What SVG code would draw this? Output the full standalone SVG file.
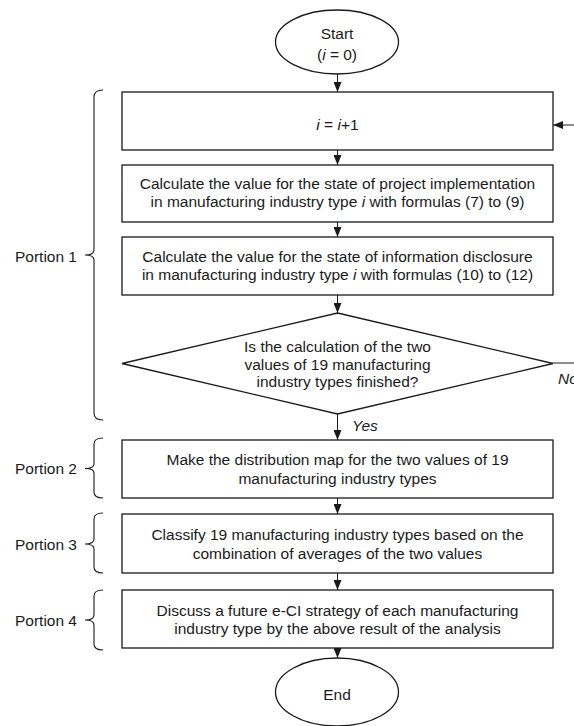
<svg xmlns="http://www.w3.org/2000/svg" width="574" height="726" viewBox="0 0 574 726">
  <style>
    .shape { fill: #fff; stroke: #1a1a1a; stroke-width: 1.3; }
    .conn { fill: none; stroke: #1a1a1a; stroke-width: 1; }
    .brace { fill: none; stroke: #1a1a1a; stroke-width: 1.1; }
    text { font-family: "Liberation Sans", Arial, sans-serif; font-size: 15.5px; fill: #1a1a1a; }
    .c { text-anchor: middle; }
    .r { text-anchor: end; }
    .it { font-style: italic; }
  </style>
  <defs>
    <marker id="arrow" markerUnits="userSpaceOnUse" markerWidth="10" markerHeight="8" refX="10" refY="4" orient="auto">
      <path d="M0,0 L10,4 L0,8 z" fill="#1a1a1a"/>
    </marker>
  </defs>

  <rect width="574" height="726" fill="#fff"/>

  <!-- connectors -->
  <g id="connectors">
    <line class="conn" x1="337.5" y1="74" x2="337.5" y2="92" marker-end="url(#arrow)"/>
    <line class="conn" x1="337.5" y1="150" x2="337.5" y2="165" marker-end="url(#arrow)"/>
    <line class="conn" x1="337.5" y1="222" x2="337.5" y2="237" marker-end="url(#arrow)"/>
    <line class="conn" x1="337.5" y1="295" x2="337.5" y2="313" marker-end="url(#arrow)"/>
    <line class="conn" x1="337.5" y1="414" x2="337.5" y2="440" marker-end="url(#arrow)"/>
    <line class="conn" x1="337.5" y1="498" x2="337.5" y2="514" marker-end="url(#arrow)"/>
    <line class="conn" x1="337.5" y1="573" x2="337.5" y2="590" marker-end="url(#arrow)"/>
    <line class="conn" x1="337.5" y1="648" x2="337.5" y2="658" marker-end="url(#arrow)"/>
    <!-- loop back (No branch) -->
    <line class="conn" x1="553" y1="363" x2="574" y2="363" stroke="#555"/>
    <line class="conn" x1="574" y1="125" x2="553" y2="125" marker-end="url(#arrow)"/>
    <text class="it" x="352" y="431">Yes</text>
    <text class="it" x="558" y="384">No</text>
  </g>

  <g id="start">
    <ellipse class="shape" cx="337" cy="42" rx="61.5" ry="32"/>
    <text class="c" x="337" y="39">Start</text>
    <text class="c" x="337" y="60">(<tspan class="it">i</tspan> = 0)</text>
  </g>

  <g id="increment">
    <rect class="shape" x="122" y="92" width="431" height="58"/>
    <text class="c" x="337.5" y="130"><tspan class="it">i</tspan> = <tspan class="it">i</tspan>+1</text>
  </g>

  <g id="calc-implementation">
    <rect class="shape" x="122" y="165" width="431" height="57"/>
    <text class="c" x="337.5" y="189">Calculate the value for the state of project implementation</text>
    <text class="c" x="337.5" y="207">in manufacturing industry type <tspan class="it">i</tspan> with formulas (7) to (9)</text>
  </g>

  <g id="calc-disclosure">
    <rect class="shape" x="122" y="237" width="431" height="58"/>
    <text class="c" x="337.5" y="262">Calculate the value for the state of information disclosure</text>
    <text class="c" x="337.5" y="280">in manufacturing industry type <tspan class="it">i</tspan> with formulas (10) to (12)</text>
  </g>

  <g id="decision">
    <polygon class="shape" points="337.5,313 553,363.5 337.5,414 122,363.5"/>
    <text class="c" x="337.5" y="352">Is the calculation of the two</text>
    <text class="c" x="337.5" y="369.5">values of 19 manufacturing</text>
    <text class="c" x="337.5" y="387">industry types finished?</text>
  </g>

  <g id="distribution-map">
    <rect class="shape" x="122" y="440" width="431" height="58"/>
    <text class="c" x="337.5" y="465">Make the distribution map for the two values of 19</text>
    <text class="c" x="337.5" y="483.5">manufacturing industry types</text>
  </g>

  <g id="classify">
    <rect class="shape" x="122" y="514" width="431" height="59"/>
    <text class="c" x="337.5" y="540">Classify 19 manufacturing industry types based on the</text>
    <text class="c" x="337.5" y="558.5">combination of averages of the two values</text>
  </g>

  <g id="discuss">
    <rect class="shape" x="122" y="590" width="431" height="58"/>
    <text class="c" x="337.5" y="616">Discuss a future e-CI strategy of each manufacturing</text>
    <text class="c" x="337.5" y="634">industry type by the above result of the analysis</text>
  </g>

  <g id="end">
    <ellipse class="shape" cx="337" cy="692" rx="61.5" ry="34"/>
    <text class="c" x="337" y="700">End</text>
  </g>

  <!-- portion braces and labels -->
  <g id="portion-1">
    <path class="brace" d="M103,90 Q94,90 94,97 L94,250 Q94,255 85,255 Q94,255 94,260 L94,413 Q94,420 103,420"/>
    <text class="r" x="77" y="262">Portion 1</text>
  </g>
  <g id="portion-2">
    <path class="brace" d="M103,438 Q94,438 94,444 L94,464 Q94,468.5 85,468.5 Q94,468.5 94,473 L94,492 Q94,498 103,498"/>
    <text class="r" x="77" y="474">Portion 2</text>
  </g>
  <g id="portion-3">
    <path class="brace" d="M103,513 Q94,513 94,519 L94,539 Q94,544 85,544 Q94,544 94,549 L94,567 Q94,573 103,573"/>
    <text class="r" x="77" y="549.5">Portion 3</text>
  </g>
  <g id="portion-4">
    <path class="brace" d="M103,590 Q94,590 94,596 L94,615 Q94,620 85,620 Q94,620 94,625 L94,644 Q94,650 103,650"/>
    <text class="r" x="77" y="625.5">Portion 4</text>
  </g>
</svg>
